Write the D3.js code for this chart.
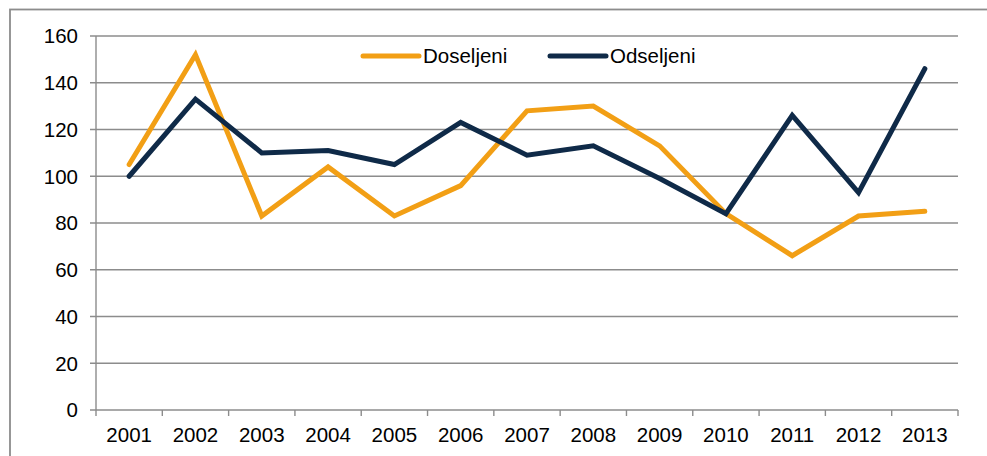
<!DOCTYPE html>
<html>
<head>
<meta charset="utf-8">
<script src="https://cdn.jsdelivr.net/npm/d3@7"></script>
<style>
html,body{margin:0;padding:0;background:#fff;}
svg{display:block;}
text{font-family:"Liberation Sans", Arial, sans-serif;fill:#000;}
</style>
</head>
<body>
<svg id="chart" width="987" height="456"></svg>
<script>
const years = ["2001","2002","2003","2004","2005","2006","2007","2008","2009","2010","2011","2012","2013"];
const doseljeni = [105,152,83,104,83,96,128,130,113,84,66,83,85];
const odseljeni = [100,133,110,111,105,123,109,113,99,84,126,93,146];
const yTicks = [0,20,40,60,80,100,120,140,160];
const seriesNames = ["Doseljeni","Odseljeni"];
const colors = ["#F29F15","#0F2A48"];

(function(){
const svg = d3.select("#chart");
const pLeft = 96, pRight = 958, pTop = 36, pBottom = 410;
const fs = "20.5px";

// outer border
svg.append("rect").attr("x",10).attr("y",9.5).attr("width",990).attr("height",460)
  .attr("fill","none").attr("stroke","#8c8c8c").attr("stroke-width",1.8);

const x = d3.scaleBand().domain(years).range([pLeft,pRight]).padding(0);
const y = d3.scaleLinear().domain([0,160]).range([pBottom,pTop]);

// gridlines
svg.append("g").selectAll("line").data(yTicks).join("line")
  .attr("x1",pLeft-6).attr("x2",pRight)
  .attr("y1",d=>y(d)).attr("y2",d=>y(d))
  .attr("stroke","#8c8c8c").attr("stroke-width",1.4);

// y axis line
svg.append("line").attr("x1",pLeft).attr("x2",pLeft).attr("y1",pTop).attr("y2",pBottom)
  .attr("stroke","#8c8c8c").attr("stroke-width",1.4);

// y labels
svg.append("g").selectAll("text").data(yTicks).join("text")
  .attr("x",78).attr("y",d=>y(d)).attr("dy","0.36em")
  .attr("text-anchor","end").attr("font-size",fs).text(d=>d);

// x ticks
const boundaries = years.map(d=>x(d)).concat([x(years[years.length-1])+x.bandwidth()]);
svg.append("g").selectAll("line").data(boundaries).join("line")
  .attr("x1",d=>d).attr("x2",d=>d).attr("y1",pBottom).attr("y2",pBottom+6)
  .attr("stroke","#8c8c8c").attr("stroke-width",1.4);

// x labels
svg.append("g").selectAll("text").data(years).join("text")
  .attr("x",d=>x(d)+x.bandwidth()/2).attr("y",442)
  .attr("text-anchor","middle").attr("font-size",fs).text(d=>d);

// lines
const line = d3.line().x((d,i)=>x(years[i])+x.bandwidth()/2).y(d=>y(d));
[doseljeni, odseljeni].forEach((s,k)=>{
  svg.append("path").datum(s).attr("d",line)
    .attr("fill","none").attr("stroke",colors[k]).attr("stroke-width",5)
    .attr("stroke-linecap","round").attr("stroke-linejoin","miter");
});

// legend
const legX = [363,550];
seriesNames.forEach((n,k)=>{
  svg.append("line").attr("x1",legX[k]).attr("x2",legX[k]+56).attr("y1",56).attr("y2",56)
    .attr("stroke",colors[k]).attr("stroke-width",5).attr("stroke-linecap","round");
  svg.append("text").attr("x",legX[k]+60).attr("y",56).attr("dy","0.36em")
    .attr("font-size",fs).text(n);
});
})();
</script>
</body>
</html>
